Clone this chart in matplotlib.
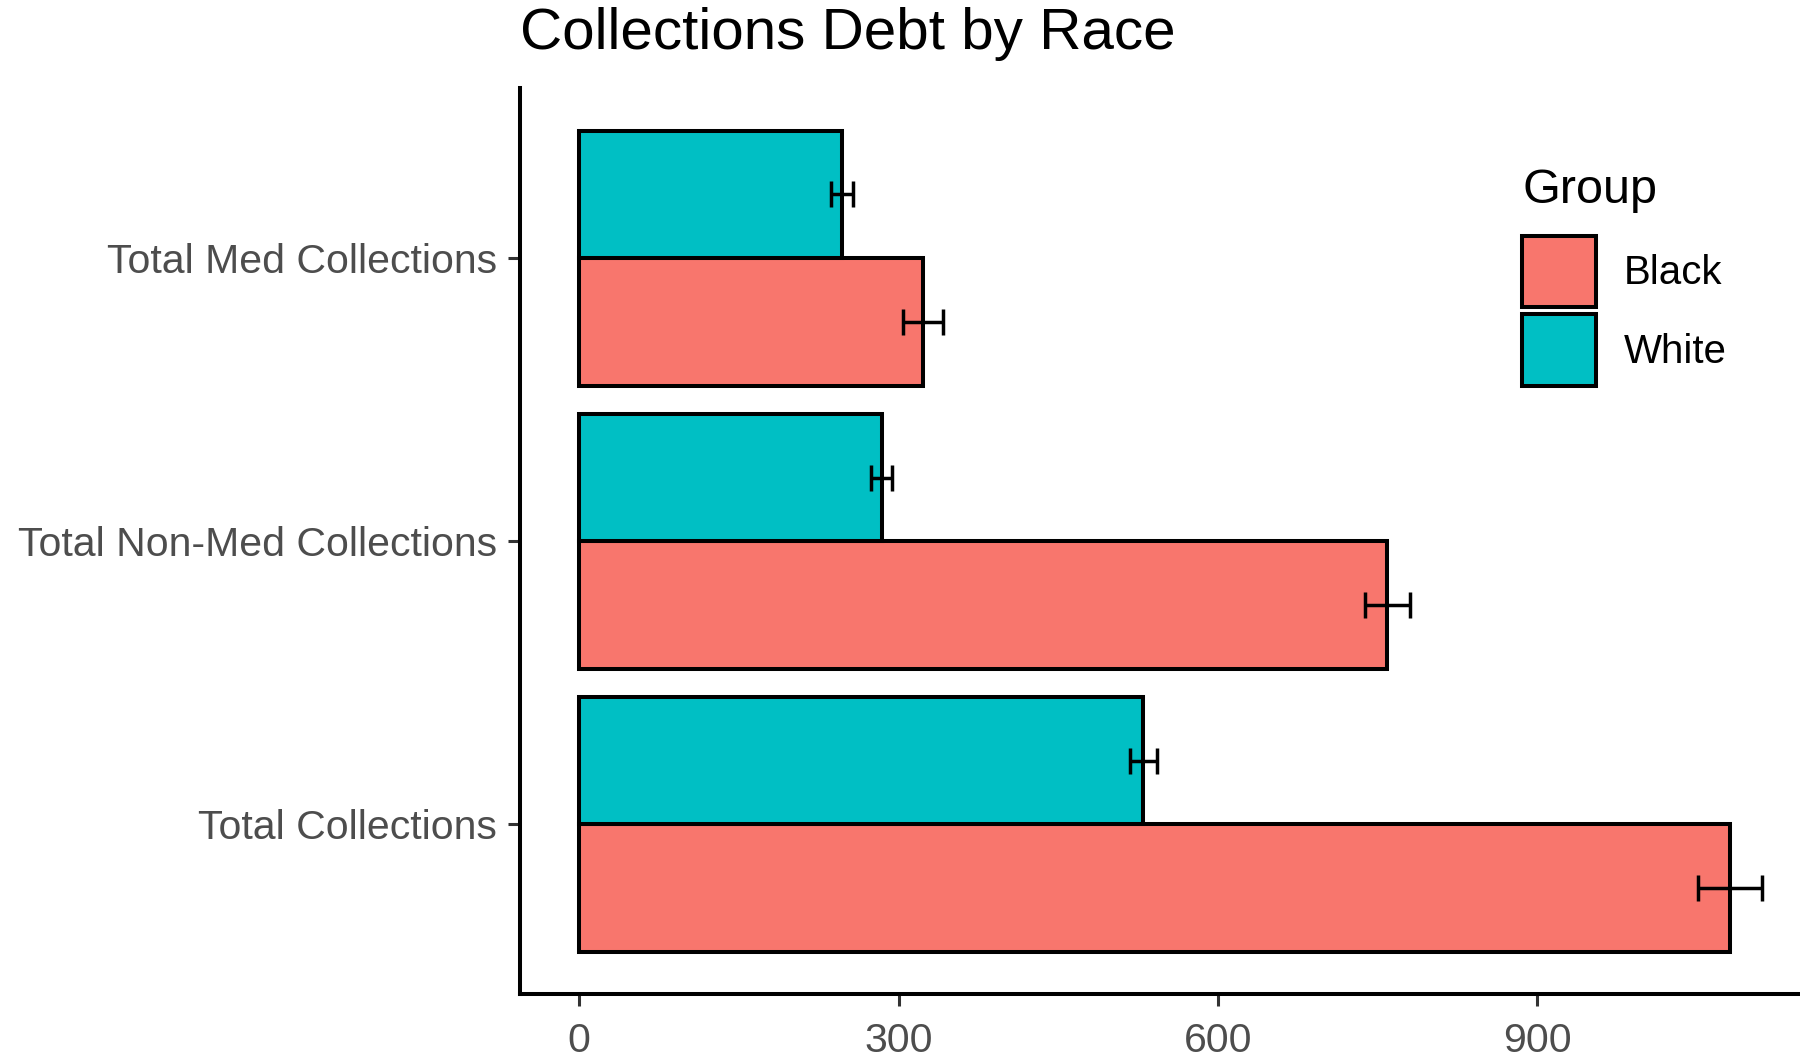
import matplotlib
matplotlib.use("Agg")
import matplotlib.pyplot as plt
from matplotlib.patches import Patch
import numpy as np

plt.rcParams['font.family'] = ['Liberation Sans', 'DejaVu Sans']

# Categories, bottom to top
categories = ["Total Collections", "Total Non-Med Collections", "Total Med Collections"]
groups = ["Black", "White"]
black_mean = [1081, 759, 323]
black_err = [30, 21, 19]
white_mean = [530, 284, 247]
white_err = [13, 10, 10]
x_ticks = [0, 300, 600, 900]

colors = {"Black": "#F8766D", "White": "#00BFC4"}

fig = plt.figure(figsize=(18, 10.57), dpi=100)
ax = fig.add_axes([0.2889, 0.0596, 0.7228, 0.8568])

y = np.arange(1, len(categories) + 1)
h = 0.45
lw = 2.9
elw = 2.5

ax.barh(y - h / 2, black_mean, height=h, color=colors["Black"], edgecolor="black", linewidth=lw, zorder=2)
ax.barh(y + h / 2, white_mean, height=h, color=colors["White"], edgecolor="black", linewidth=lw, zorder=2)
ax.errorbar(black_mean, y - h / 2, xerr=black_err, fmt="none", ecolor="black",
            elinewidth=elw, capsize=9.5, capthick=elw, zorder=3)
ax.errorbar(white_mean, y + h / 2, xerr=white_err, fmt="none", ecolor="black",
            elinewidth=elw, capsize=9.5, capthick=elw, zorder=3)

xmax = max(max(np.add(black_mean, black_err)), max(np.add(white_mean, white_err)))
pad = 0.05 * xmax
ax.set_xlim(-pad, xmax + pad)
ax.set_ylim(0.4, len(categories) + 0.6)

ax.set_yticks(y)
ax.set_yticklabels(categories)
ax.set_xticks(x_ticks)
ax.set_xticklabels([str(v) for v in x_ticks])

for side in ("top", "right"):
    ax.spines[side].set_visible(False)
for side in ("left", "bottom"):
    ax.spines[side].set_linewidth(2.9)
    ax.spines[side].set_color("black")

ax.tick_params(axis="both", length=8.5, width=2.2, color="#333333",
               labelsize=29.5, labelcolor="#4D4D4D")
ax.tick_params(axis="y", pad=8)
ax.tick_params(axis="x", pad=11.5)

ax.set_title("Collections Debt by Race", loc="left", fontsize=42, color="black", pad=28)

handles = [Patch(facecolor=colors[g], edgecolor="black", linewidth=lw, label=g) for g in groups]
leg = fig.legend(handles=handles, title="Group", loc="upper left",
                 bbox_to_anchor=(0.8368, 0.856), frameon=False, fontsize=29,
                 title_fontsize=35, handlelength=1.84, handleheight=2.37,
                 labelspacing=0.17, handletextpad=0.67, borderaxespad=0)
leg._legend_box.align = "left"
leg._legend_box.sep = 16

fig.savefig("out.png", dpi=100)
